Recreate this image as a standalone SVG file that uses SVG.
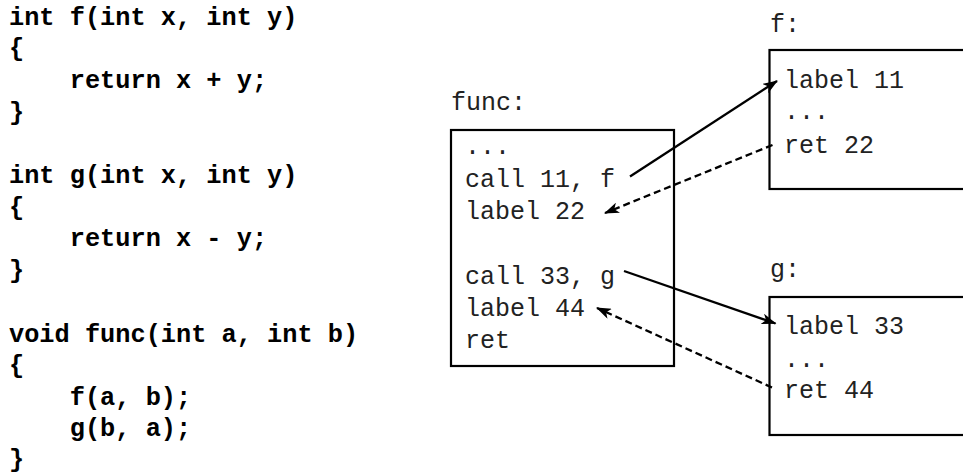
<svg xmlns="http://www.w3.org/2000/svg" width="963" height="475" viewBox="0 0 963 475">
<style>
.code{font-family:"Liberation Mono","Courier New",monospace;font-weight:bold;font-size:25.3px;fill:#000;white-space:pre}
.asm{font-family:"Liberation Mono","Courier New",monospace;font-size:25px;fill:#222;white-space:pre}
.box{fill:#fff;stroke:#000;stroke-width:2.2}
.solid{fill:none;stroke:#000;stroke-width:2.3}
.dash{fill:none;stroke:#000;stroke-width:2.3;stroke-dasharray:7 4}
</style>
<defs>
<marker id="ah" viewBox="0 0 15 11" refX="14" refY="5.5" markerWidth="15" markerHeight="11" markerUnits="userSpaceOnUse" orient="auto">
<path d="M0,0 L15,5.5 L0,11 L4,5.5 z" fill="#000"/>
</marker>
</defs>
<rect width="963" height="475" fill="#fff"/>
<g id="source">
<text class="code" x="9" y="24.5">int f(int x, int y)</text>
<text class="code" x="9" y="56.2">{</text>
<text class="code" x="9" y="87.9">    return x + y;</text>
<text class="code" x="9" y="119.6">}</text>
<text class="code" x="9" y="183">int g(int x, int y)</text>
<text class="code" x="9" y="214.7">{</text>
<text class="code" x="9" y="246.4">    return x - y;</text>
<text class="code" x="9" y="278.1">}</text>
<text class="code" x="9" y="341.5">void func(int a, int b)</text>
<text class="code" x="9" y="373.2">{</text>
<text class="code" x="9" y="404.9">    f(a, b);</text>
<text class="code" x="9" y="436">    g(b, a);</text>
<text class="code" x="9" y="467">}</text>
</g>
<g id="func">
<text class="asm" x="451" y="110">func:</text>
<rect class="box" x="451" y="130" width="223" height="236"/>
<text class="asm" x="465" y="154">...</text>
<text class="asm" x="465" y="186.5">call 11, f</text>
<text class="asm" x="465" y="219">label 22</text>
<text class="asm" x="465" y="283.5">call 33, g</text>
<text class="asm" x="465" y="315.5">label 44</text>
<text class="asm" x="465" y="347.5">ret</text>
</g>
<g id="f">
<text class="asm" x="770" y="31.5">f:</text>
<rect class="box" x="769.5" y="50" width="200" height="139"/>
<text class="asm" x="784" y="88">label 11</text>
<text class="asm" x="784" y="118.5">...</text>
<text class="asm" x="784" y="152.5">ret 22</text>
</g>
<g id="g">
<text class="asm" x="770" y="277">g:</text>
<rect class="box" x="769.5" y="297" width="200" height="138"/>
<text class="asm" x="784" y="333.5">label 33</text>
<text class="asm" x="784" y="366.5">...</text>
<text class="asm" x="784" y="397.5">ret 44</text>
</g>
<g id="connectors">
<line class="solid" x1="630" y1="176.5" x2="777" y2="81" marker-end="url(#ah)"/>
<line class="dash" x1="772.5" y1="145" x2="605" y2="213" marker-end="url(#ah)"/>
<line class="solid" x1="624" y1="271" x2="775.5" y2="323.5" marker-end="url(#ah)"/>
<line class="dash" x1="772" y1="387.5" x2="597" y2="308" marker-end="url(#ah)"/>
</g>
</svg>
